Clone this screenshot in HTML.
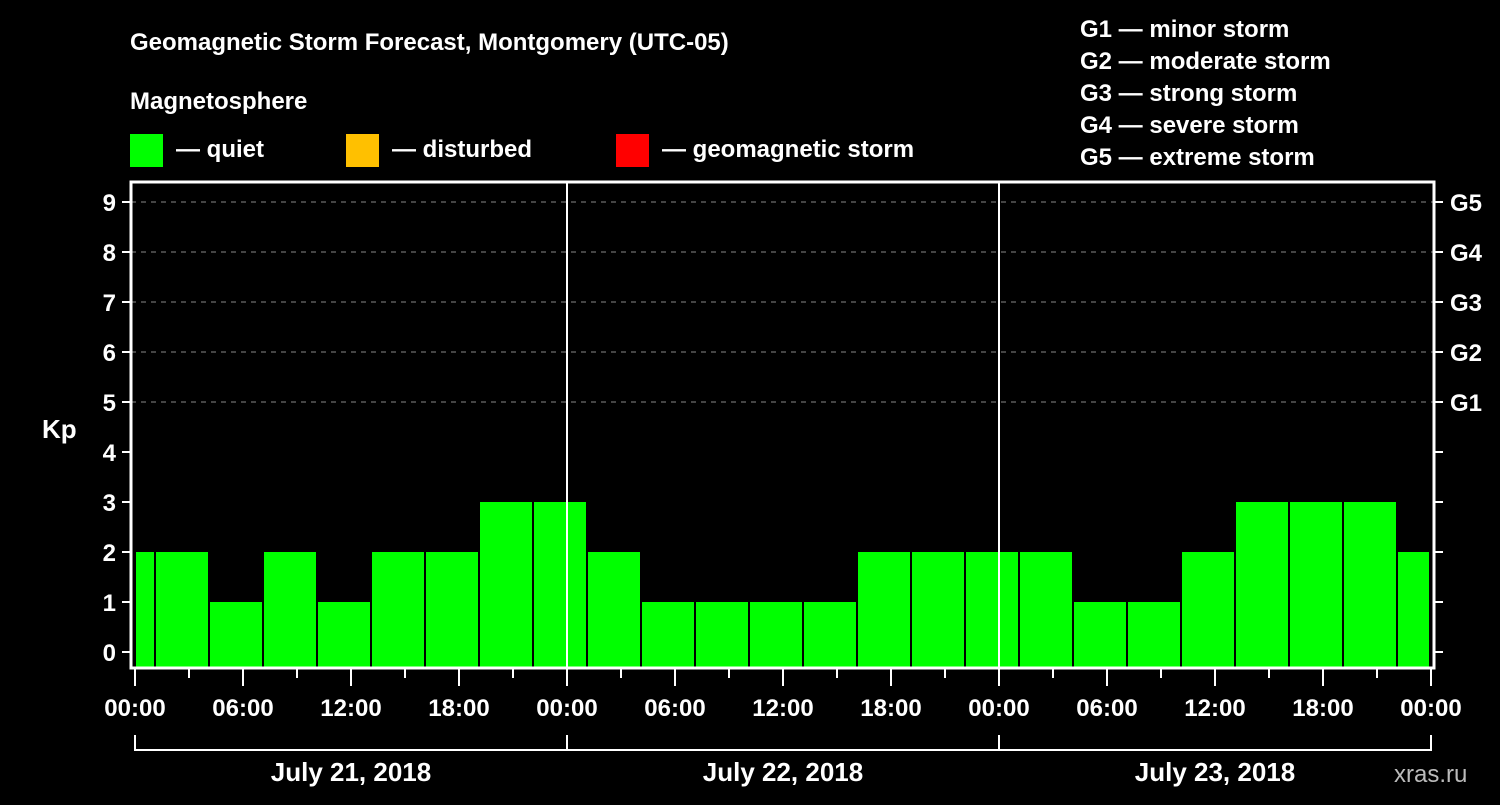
<!DOCTYPE html>
<html><head><meta charset="utf-8"><style>
body{margin:0;background:#000;width:1500px;height:800px;overflow:hidden}
text{font-family:"Liberation Sans",sans-serif;font-weight:bold;fill:#fff}
</style></head><body>
<svg id="c" width="1500" height="800">
<text x="130" y="50" font-size="24">Geomagnetic Storm Forecast, Montgomery (UTC-05)</text>
<text x="130" y="109" font-size="24">Magnetosphere</text>
<g><rect x="130" y="134" width="33" height="33" fill="#00ff00"/><text x="176" y="157" font-size="24">— quiet</text></g>
<g><rect x="346" y="134" width="33" height="33" fill="#ffc000"/><text x="392" y="157" font-size="24">— disturbed</text></g>
<g><rect x="616" y="134" width="33" height="33" fill="#ff0000"/><text x="662" y="157" font-size="24">— geomagnetic storm</text></g>
<g font-size="24">
<text x="1080" y="37">G1 — minor storm</text><text x="1080" y="69">G2 — moderate storm</text><text x="1080" y="101">G3 — strong storm</text><text x="1080" y="133">G4 — severe storm</text><text x="1080" y="165">G5 — extreme storm</text></g>
<text x="42" y="438" font-size="26">Kp</text>
<text x="1394" y="782" font-size="24" fill="#bbb" style="fill:#bbb;font-weight:normal">xras.ru</text>
<g id="plot"></g>
</svg>
<script>
const kpValues=[2,2,1,2,1,2,2,3,3,2,1,1,1,1,2,2,2,2,1,1,2,3,3,3,2];
const yTicks=[0,1,2,3,4,5,6,7,8,9];
const gLabels=["G1","G2","G3","G4","G5"];
const xLabels=["00:00","06:00","12:00","18:00","00:00","06:00","12:00","18:00","00:00","06:00","12:00","18:00","00:00"];
const dayLabels=["July 21, 2018","July 22, 2018","July 23, 2018"];
const NS="http://www.w3.org/2000/svg";
const g=document.getElementById('plot');
const X=h=>135+18*h, Y=v=>652-50*v;
function mk(t,a){const e=document.createElementNS(NS,t);for(const k in a)e.setAttribute(k,a[k]);g.appendChild(e);return e;}
yTicks.forEach(v=>{
 if(v>=5){const l=mk('line',{x1:131,x2:1434,y1:Y(v),y2:Y(v),stroke:'#888','stroke-dasharray':'5,5','stroke-width':1});
 
 }
 const t=mk('line',{x1:122,x2:131,y1:Y(v),y2:Y(v),stroke:'#fff','stroke-width':2});
 
 
 const r=mk('line',{x1:1434,x2:1443,y1:Y(v),y2:Y(v),stroke:'#fff','stroke-width':2});
 
 
 const tx=mk('text',{x:116,y:Y(v)+9,'font-size':24,'text-anchor':'end'});tx.textContent=v;
 
 
});
gLabels.forEach((s,i)=>{const t=mk('text',{x:1450,y:Y(5+i)+9,'font-size':24});t.textContent=s;
 
 });
kpValues.forEach((v,i)=>{
 let x0=X(3*i-2)+3,x1=X(3*i+1)+1;x0=Math.max(x0,136);x1=Math.min(x1,1429);
 const b=mk('rect',{x:x0,y:Y(v),width:x1-x0,height:667-Y(v),fill:v>=5?'#ff0000':v>=4?'#ffc000':'#00ff00'});
 
 
});
[24,48].forEach(h=>{const l=mk('line',{x1:X(h),x2:X(h),y1:181,y2:667,stroke:'#fff','stroke-width':2});
 
 });
const f=mk('path',{d:'M131,668 V182 H1434 V668 Z',fill:'none',stroke:'#fff','stroke-width':3});


for(let h=0;h<=72;h+=3){const t=mk('line',{x1:X(h),x2:X(h),y1:668,y2:h%6?678:686,stroke:'#fff','stroke-width':2});
 
 }
xLabels.forEach((s,i)=>{const t=mk('text',{x:X(6*i),y:716,'font-size':24,'text-anchor':'middle'});t.textContent=s;
 
 });
dayLabels.forEach((s,i)=>{
 const p=mk('path',{d:`M${X(24*i)},735 V750 H${X(24*i+24)} V735`,fill:'none',stroke:'#fff','stroke-width':2});
 
 
 const t=mk('text',{x:X(24*i+12),y:781,'font-size':26,'text-anchor':'middle'});t.textContent=s;
 
 
});
</script>
</body></html>
